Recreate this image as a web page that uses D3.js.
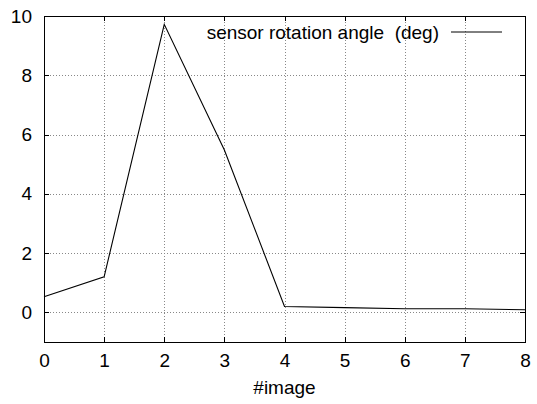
<!DOCTYPE html>
<html>
<head>
<meta charset="utf-8">
<script src="https://cdn.jsdelivr.net/npm/d3@7"></script>
<style>
    body { margin: 0; background: #fff; }
    svg { display: block; font-family: "Liberation Sans", Arial, sans-serif; }
    .grid line { stroke: #888; stroke-dasharray: 1,2; shape-rendering: crispEdges; }
    .grid path { display: none; }
    .axis path { display: none; }
    .axis line { stroke: #000; shape-rendering: crispEdges; }
    .axis text { font-size: 19px; fill: #000; }
</style>
</head>
<body>
<div id="chart"></div>
<script>
"use strict";

var images = [0, 1, 2, 3, 4, 5, 6, 7, 8];
var angles = [0.53, 1.2, 9.72, 5.48, 0.2, 0.16, 0.12, 0.12, 0.09];
var xTicks = [0, 1, 2, 3, 4, 5, 6, 7, 8];
var yTicks = [0, 2, 4, 6, 8, 10];
var seriesName = "sensor rotation angle  (deg)";
var xTitle = "#image";

var margin = { top: 16, right: 12, bottom: 62, left: 44 },
    totalW = 537,
    totalH = 404,
    width = totalW - margin.left - margin.right,
    height = totalH - margin.top - margin.bottom,
    tickLen = 5;

var svg = d3.select("#chart").append("svg")
    .attr("width", totalW)
    .attr("height", totalH)
    .append("g")
    .attr("transform", "translate(" + margin.left + "," + margin.top + ")");

var x = d3.scaleLinear().domain([0, 8]).range([0, width]);
var y = d3.scaleLinear().domain([-1, 10]).range([height, 0]);

// grid lines (skip the ones lying on the border)
svg.append("g").attr("class", "grid")
    .call(d3.axisBottom(x).tickValues(xTicks.slice(1, -1))
        .tickSize(height).tickFormat(""));
svg.append("g").attr("class", "grid")
    .call(d3.axisRight(y).tickValues(yTicks.slice(0, -1))
        .tickSize(width).tickFormat(""));

// axes with inward ticks, mirrored on top and right
svg.append("g").attr("class", "axis")
    .attr("transform", "translate(0," + height + ")")
    .call(d3.axisBottom(x).tickValues(xTicks).tickSizeInner(-tickLen)
        .tickSizeOuter(0).tickPadding(12));
svg.append("g").attr("class", "axis")
    .call(d3.axisTop(x).tickValues(xTicks).tickSizeInner(-tickLen)
        .tickSizeOuter(0).tickFormat(""));
svg.append("g").attr("class", "axis")
    .call(d3.axisLeft(y).tickValues(yTicks).tickSizeInner(-tickLen)
        .tickSizeOuter(0).tickPadding(12));
svg.append("g").attr("class", "axis")
    .attr("transform", "translate(" + width + ",0)")
    .call(d3.axisRight(y).tickValues(yTicks).tickSizeInner(-tickLen)
        .tickSizeOuter(0).tickFormat(""));

// border
svg.append("rect")
    .attr("width", width)
    .attr("height", height)
    .attr("fill", "none")
    .attr("stroke", "#000")
    .attr("shape-rendering", "crispEdges");

// data line
var line = d3.line()
    .x(function (d, i) { return x(images[i]); })
    .y(function (d) { return y(d); });

svg.append("path")
    .datum(angles)
    .attr("fill", "none")
    .attr("stroke", "#000")
    .attr("stroke-width", 1.1)
    .attr("d", line);

// legend
var legY = 16;
svg.append("text")
    .attr("x", width - 86)
    .attr("y", legY)
    .attr("dy", "0.35em")
    .attr("text-anchor", "end")
    .style("font-size", "19px")
    .style("white-space", "pre")
    .text(seriesName);
svg.append("line")
    .attr("x1", width - 74)
    .attr("x2", width - 23)
    .attr("y1", legY)
    .attr("y2", legY)
    .attr("stroke", "#000");

// x title
svg.append("text")
    .attr("x", width / 2)
    .attr("y", height + 52)
    .attr("text-anchor", "middle")
    .style("font-size", "19px")
    .text(xTitle);
</script>
</body>
</html>
